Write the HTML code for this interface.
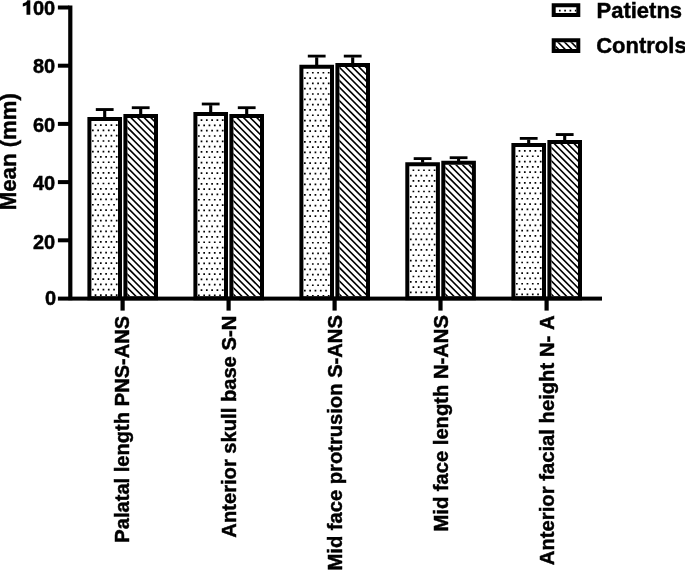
<!DOCTYPE html><html><head><meta charset="utf-8"><style>html,body{margin:0;padding:0;background:#fff;}svg{display:block;will-change:transform;}text{font-family:"Liberation Sans", sans-serif;font-weight:bold;fill:#000;stroke:#000;stroke-width:0.45px;font-kerning:none;white-space:pre;}</style></head><body><svg width="685" height="570" viewBox="0 0 685 570"><rect width="685" height="570" fill="#fff"/><defs><clipPath id="c1"><rect x="91.40" y="121.00" width="26.60" height="175.20"/></clipPath><clipPath id="c2"><rect x="127.40" y="118.05" width="26.60" height="178.15"/></clipPath><clipPath id="c3"><rect x="197.40" y="116.00" width="26.60" height="180.20"/></clipPath><clipPath id="c4"><rect x="233.40" y="118.05" width="26.60" height="178.15"/></clipPath><clipPath id="c5"><rect x="303.40" y="68.70" width="26.60" height="227.50"/></clipPath><clipPath id="c6"><rect x="339.40" y="67.10" width="26.60" height="229.10"/></clipPath><clipPath id="c7"><rect x="409.30" y="166.20" width="26.60" height="130.00"/></clipPath><clipPath id="c8"><rect x="445.30" y="164.80" width="26.60" height="131.40"/></clipPath><clipPath id="c9"><rect x="515.40" y="146.90" width="26.60" height="149.30"/></clipPath><clipPath id="c10"><rect x="551.40" y="144.00" width="26.60" height="152.20"/></clipPath><clipPath id="c11"><rect x="555.70" y="7.20" width="20.60" height="5.70"/></clipPath><clipPath id="c12"><rect x="555.70" y="42.30" width="20.60" height="6.60"/></clipPath></defs><rect x="91.40" y="121.00" width="26.60" height="175.20" fill="#fff"/><path clip-path="url(#c1)" d="M94.65 124.20h1.70v1.70h-1.70zM99.95 124.20h1.70v1.70h-1.70zM105.25 124.20h1.70v1.70h-1.70zM110.55 124.20h1.70v1.70h-1.70zM115.85 124.20h1.70v1.70h-1.70zM92.00 129.51h1.70v1.70h-1.70zM97.30 129.51h1.70v1.70h-1.70zM102.60 129.51h1.70v1.70h-1.70zM107.90 129.51h1.70v1.70h-1.70zM113.20 129.51h1.70v1.70h-1.70zM94.65 134.82h1.70v1.70h-1.70zM99.95 134.82h1.70v1.70h-1.70zM105.25 134.82h1.70v1.70h-1.70zM110.55 134.82h1.70v1.70h-1.70zM115.85 134.82h1.70v1.70h-1.70zM92.00 140.14h1.70v1.70h-1.70zM97.30 140.14h1.70v1.70h-1.70zM102.60 140.14h1.70v1.70h-1.70zM107.90 140.14h1.70v1.70h-1.70zM113.20 140.14h1.70v1.70h-1.70zM94.65 145.45h1.70v1.70h-1.70zM99.95 145.45h1.70v1.70h-1.70zM105.25 145.45h1.70v1.70h-1.70zM110.55 145.45h1.70v1.70h-1.70zM115.85 145.45h1.70v1.70h-1.70zM92.00 150.76h1.70v1.70h-1.70zM97.30 150.76h1.70v1.70h-1.70zM102.60 150.76h1.70v1.70h-1.70zM107.90 150.76h1.70v1.70h-1.70zM113.20 150.76h1.70v1.70h-1.70zM94.65 156.07h1.70v1.70h-1.70zM99.95 156.07h1.70v1.70h-1.70zM105.25 156.07h1.70v1.70h-1.70zM110.55 156.07h1.70v1.70h-1.70zM115.85 156.07h1.70v1.70h-1.70zM92.00 161.38h1.70v1.70h-1.70zM97.30 161.38h1.70v1.70h-1.70zM102.60 161.38h1.70v1.70h-1.70zM107.90 161.38h1.70v1.70h-1.70zM113.20 161.38h1.70v1.70h-1.70zM94.65 166.70h1.70v1.70h-1.70zM99.95 166.70h1.70v1.70h-1.70zM105.25 166.70h1.70v1.70h-1.70zM110.55 166.70h1.70v1.70h-1.70zM115.85 166.70h1.70v1.70h-1.70zM92.00 172.01h1.70v1.70h-1.70zM97.30 172.01h1.70v1.70h-1.70zM102.60 172.01h1.70v1.70h-1.70zM107.90 172.01h1.70v1.70h-1.70zM113.20 172.01h1.70v1.70h-1.70zM94.65 177.32h1.70v1.70h-1.70zM99.95 177.32h1.70v1.70h-1.70zM105.25 177.32h1.70v1.70h-1.70zM110.55 177.32h1.70v1.70h-1.70zM115.85 177.32h1.70v1.70h-1.70zM92.00 182.63h1.70v1.70h-1.70zM97.30 182.63h1.70v1.70h-1.70zM102.60 182.63h1.70v1.70h-1.70zM107.90 182.63h1.70v1.70h-1.70zM113.20 182.63h1.70v1.70h-1.70zM94.65 187.94h1.70v1.70h-1.70zM99.95 187.94h1.70v1.70h-1.70zM105.25 187.94h1.70v1.70h-1.70zM110.55 187.94h1.70v1.70h-1.70zM115.85 187.94h1.70v1.70h-1.70zM92.00 193.26h1.70v1.70h-1.70zM97.30 193.26h1.70v1.70h-1.70zM102.60 193.26h1.70v1.70h-1.70zM107.90 193.26h1.70v1.70h-1.70zM113.20 193.26h1.70v1.70h-1.70zM94.65 198.57h1.70v1.70h-1.70zM99.95 198.57h1.70v1.70h-1.70zM105.25 198.57h1.70v1.70h-1.70zM110.55 198.57h1.70v1.70h-1.70zM115.85 198.57h1.70v1.70h-1.70zM92.00 203.88h1.70v1.70h-1.70zM97.30 203.88h1.70v1.70h-1.70zM102.60 203.88h1.70v1.70h-1.70zM107.90 203.88h1.70v1.70h-1.70zM113.20 203.88h1.70v1.70h-1.70zM94.65 209.19h1.70v1.70h-1.70zM99.95 209.19h1.70v1.70h-1.70zM105.25 209.19h1.70v1.70h-1.70zM110.55 209.19h1.70v1.70h-1.70zM115.85 209.19h1.70v1.70h-1.70zM92.00 214.50h1.70v1.70h-1.70zM97.30 214.50h1.70v1.70h-1.70zM102.60 214.50h1.70v1.70h-1.70zM107.90 214.50h1.70v1.70h-1.70zM113.20 214.50h1.70v1.70h-1.70zM94.65 219.82h1.70v1.70h-1.70zM99.95 219.82h1.70v1.70h-1.70zM105.25 219.82h1.70v1.70h-1.70zM110.55 219.82h1.70v1.70h-1.70zM115.85 219.82h1.70v1.70h-1.70zM92.00 225.13h1.70v1.70h-1.70zM97.30 225.13h1.70v1.70h-1.70zM102.60 225.13h1.70v1.70h-1.70zM107.90 225.13h1.70v1.70h-1.70zM113.20 225.13h1.70v1.70h-1.70zM94.65 230.44h1.70v1.70h-1.70zM99.95 230.44h1.70v1.70h-1.70zM105.25 230.44h1.70v1.70h-1.70zM110.55 230.44h1.70v1.70h-1.70zM115.85 230.44h1.70v1.70h-1.70zM92.00 235.75h1.70v1.70h-1.70zM97.30 235.75h1.70v1.70h-1.70zM102.60 235.75h1.70v1.70h-1.70zM107.90 235.75h1.70v1.70h-1.70zM113.20 235.75h1.70v1.70h-1.70zM94.65 241.06h1.70v1.70h-1.70zM99.95 241.06h1.70v1.70h-1.70zM105.25 241.06h1.70v1.70h-1.70zM110.55 241.06h1.70v1.70h-1.70zM115.85 241.06h1.70v1.70h-1.70zM92.00 246.38h1.70v1.70h-1.70zM97.30 246.38h1.70v1.70h-1.70zM102.60 246.38h1.70v1.70h-1.70zM107.90 246.38h1.70v1.70h-1.70zM113.20 246.38h1.70v1.70h-1.70zM94.65 251.69h1.70v1.70h-1.70zM99.95 251.69h1.70v1.70h-1.70zM105.25 251.69h1.70v1.70h-1.70zM110.55 251.69h1.70v1.70h-1.70zM115.85 251.69h1.70v1.70h-1.70zM92.00 257.00h1.70v1.70h-1.70zM97.30 257.00h1.70v1.70h-1.70zM102.60 257.00h1.70v1.70h-1.70zM107.90 257.00h1.70v1.70h-1.70zM113.20 257.00h1.70v1.70h-1.70zM94.65 262.31h1.70v1.70h-1.70zM99.95 262.31h1.70v1.70h-1.70zM105.25 262.31h1.70v1.70h-1.70zM110.55 262.31h1.70v1.70h-1.70zM115.85 262.31h1.70v1.70h-1.70zM92.00 267.62h1.70v1.70h-1.70zM97.30 267.62h1.70v1.70h-1.70zM102.60 267.62h1.70v1.70h-1.70zM107.90 267.62h1.70v1.70h-1.70zM113.20 267.62h1.70v1.70h-1.70zM94.65 272.94h1.70v1.70h-1.70zM99.95 272.94h1.70v1.70h-1.70zM105.25 272.94h1.70v1.70h-1.70zM110.55 272.94h1.70v1.70h-1.70zM115.85 272.94h1.70v1.70h-1.70zM92.00 278.25h1.70v1.70h-1.70zM97.30 278.25h1.70v1.70h-1.70zM102.60 278.25h1.70v1.70h-1.70zM107.90 278.25h1.70v1.70h-1.70zM113.20 278.25h1.70v1.70h-1.70zM94.65 283.56h1.70v1.70h-1.70zM99.95 283.56h1.70v1.70h-1.70zM105.25 283.56h1.70v1.70h-1.70zM110.55 283.56h1.70v1.70h-1.70zM115.85 283.56h1.70v1.70h-1.70zM92.00 288.87h1.70v1.70h-1.70zM97.30 288.87h1.70v1.70h-1.70zM102.60 288.87h1.70v1.70h-1.70zM107.90 288.87h1.70v1.70h-1.70zM113.20 288.87h1.70v1.70h-1.70zM94.65 294.18h1.70v1.70h-1.70zM99.95 294.18h1.70v1.70h-1.70zM105.25 294.18h1.70v1.70h-1.70zM110.55 294.18h1.70v1.70h-1.70zM115.85 294.18h1.70v1.70h-1.70z" fill="#000"/><path fill-rule="evenodd" fill="#000" d="M87.40 117.00h34.60v183.20h-34.60zM91.40 121.00v175.20h26.60v-175.20z"/><rect x="95.80" y="108.10" width="17.80" height="2.90" fill="#000"/><rect x="103.15" y="110.80" width="3.10" height="6.60" fill="#000"/><rect x="127.40" y="118.05" width="26.60" height="178.15" fill="#fff"/><path clip-path="url(#c2)" d="M-70.68 108.05L125.90 306.20M-64.05 108.05L132.52 306.20M-57.43 108.05L139.15 306.20M-50.80 108.05L145.77 306.20M-44.18 108.05L152.40 306.20M-37.55 108.05L159.02 306.20M-30.93 108.05L165.65 306.20M-24.30 108.05L172.27 306.20M-17.68 108.05L178.90 306.20M-11.05 108.05L185.52 306.20M-4.43 108.05L192.15 306.20M2.20 108.05L198.77 306.20M8.82 108.05L205.40 306.20M15.45 108.05L212.02 306.20M22.07 108.05L218.65 306.20M28.70 108.05L225.27 306.20M35.32 108.05L231.90 306.20M41.95 108.05L238.52 306.20M48.57 108.05L245.15 306.20M55.20 108.05L251.77 306.20M61.82 108.05L258.40 306.20M68.45 108.05L265.02 306.20M75.07 108.05L271.65 306.20M81.70 108.05L278.27 306.20M88.32 108.05L284.90 306.20M94.95 108.05L291.52 306.20M101.57 108.05L298.15 306.20M108.20 108.05L304.77 306.20M114.82 108.05L311.40 306.20M121.45 108.05L318.02 306.20M128.07 108.05L324.65 306.20M134.70 108.05L331.27 306.20M141.32 108.05L337.90 306.20M147.95 108.05L344.52 306.20M154.57 108.05L351.15 306.20" stroke="#000" stroke-width="1.6" fill="none"/><path fill-rule="evenodd" fill="#000" d="M123.40 114.05h34.60v186.15h-34.60zM127.40 118.05v178.15h26.60v-178.15z"/><rect x="131.80" y="106.30" width="17.80" height="2.80" fill="#000"/><rect x="139.15" y="108.90" width="3.10" height="5.55" fill="#000"/><rect x="197.40" y="116.00" width="26.60" height="180.20" fill="#fff"/><path clip-path="url(#c3)" d="M200.65 119.20h1.70v1.70h-1.70zM205.95 119.20h1.70v1.70h-1.70zM211.25 119.20h1.70v1.70h-1.70zM216.55 119.20h1.70v1.70h-1.70zM221.85 119.20h1.70v1.70h-1.70zM198.00 124.51h1.70v1.70h-1.70zM203.30 124.51h1.70v1.70h-1.70zM208.60 124.51h1.70v1.70h-1.70zM213.90 124.51h1.70v1.70h-1.70zM219.20 124.51h1.70v1.70h-1.70zM200.65 129.82h1.70v1.70h-1.70zM205.95 129.82h1.70v1.70h-1.70zM211.25 129.82h1.70v1.70h-1.70zM216.55 129.82h1.70v1.70h-1.70zM221.85 129.82h1.70v1.70h-1.70zM198.00 135.14h1.70v1.70h-1.70zM203.30 135.14h1.70v1.70h-1.70zM208.60 135.14h1.70v1.70h-1.70zM213.90 135.14h1.70v1.70h-1.70zM219.20 135.14h1.70v1.70h-1.70zM200.65 140.45h1.70v1.70h-1.70zM205.95 140.45h1.70v1.70h-1.70zM211.25 140.45h1.70v1.70h-1.70zM216.55 140.45h1.70v1.70h-1.70zM221.85 140.45h1.70v1.70h-1.70zM198.00 145.76h1.70v1.70h-1.70zM203.30 145.76h1.70v1.70h-1.70zM208.60 145.76h1.70v1.70h-1.70zM213.90 145.76h1.70v1.70h-1.70zM219.20 145.76h1.70v1.70h-1.70zM200.65 151.07h1.70v1.70h-1.70zM205.95 151.07h1.70v1.70h-1.70zM211.25 151.07h1.70v1.70h-1.70zM216.55 151.07h1.70v1.70h-1.70zM221.85 151.07h1.70v1.70h-1.70zM198.00 156.38h1.70v1.70h-1.70zM203.30 156.38h1.70v1.70h-1.70zM208.60 156.38h1.70v1.70h-1.70zM213.90 156.38h1.70v1.70h-1.70zM219.20 156.38h1.70v1.70h-1.70zM200.65 161.70h1.70v1.70h-1.70zM205.95 161.70h1.70v1.70h-1.70zM211.25 161.70h1.70v1.70h-1.70zM216.55 161.70h1.70v1.70h-1.70zM221.85 161.70h1.70v1.70h-1.70zM198.00 167.01h1.70v1.70h-1.70zM203.30 167.01h1.70v1.70h-1.70zM208.60 167.01h1.70v1.70h-1.70zM213.90 167.01h1.70v1.70h-1.70zM219.20 167.01h1.70v1.70h-1.70zM200.65 172.32h1.70v1.70h-1.70zM205.95 172.32h1.70v1.70h-1.70zM211.25 172.32h1.70v1.70h-1.70zM216.55 172.32h1.70v1.70h-1.70zM221.85 172.32h1.70v1.70h-1.70zM198.00 177.63h1.70v1.70h-1.70zM203.30 177.63h1.70v1.70h-1.70zM208.60 177.63h1.70v1.70h-1.70zM213.90 177.63h1.70v1.70h-1.70zM219.20 177.63h1.70v1.70h-1.70zM200.65 182.94h1.70v1.70h-1.70zM205.95 182.94h1.70v1.70h-1.70zM211.25 182.94h1.70v1.70h-1.70zM216.55 182.94h1.70v1.70h-1.70zM221.85 182.94h1.70v1.70h-1.70zM198.00 188.26h1.70v1.70h-1.70zM203.30 188.26h1.70v1.70h-1.70zM208.60 188.26h1.70v1.70h-1.70zM213.90 188.26h1.70v1.70h-1.70zM219.20 188.26h1.70v1.70h-1.70zM200.65 193.57h1.70v1.70h-1.70zM205.95 193.57h1.70v1.70h-1.70zM211.25 193.57h1.70v1.70h-1.70zM216.55 193.57h1.70v1.70h-1.70zM221.85 193.57h1.70v1.70h-1.70zM198.00 198.88h1.70v1.70h-1.70zM203.30 198.88h1.70v1.70h-1.70zM208.60 198.88h1.70v1.70h-1.70zM213.90 198.88h1.70v1.70h-1.70zM219.20 198.88h1.70v1.70h-1.70zM200.65 204.19h1.70v1.70h-1.70zM205.95 204.19h1.70v1.70h-1.70zM211.25 204.19h1.70v1.70h-1.70zM216.55 204.19h1.70v1.70h-1.70zM221.85 204.19h1.70v1.70h-1.70zM198.00 209.50h1.70v1.70h-1.70zM203.30 209.50h1.70v1.70h-1.70zM208.60 209.50h1.70v1.70h-1.70zM213.90 209.50h1.70v1.70h-1.70zM219.20 209.50h1.70v1.70h-1.70zM200.65 214.82h1.70v1.70h-1.70zM205.95 214.82h1.70v1.70h-1.70zM211.25 214.82h1.70v1.70h-1.70zM216.55 214.82h1.70v1.70h-1.70zM221.85 214.82h1.70v1.70h-1.70zM198.00 220.13h1.70v1.70h-1.70zM203.30 220.13h1.70v1.70h-1.70zM208.60 220.13h1.70v1.70h-1.70zM213.90 220.13h1.70v1.70h-1.70zM219.20 220.13h1.70v1.70h-1.70zM200.65 225.44h1.70v1.70h-1.70zM205.95 225.44h1.70v1.70h-1.70zM211.25 225.44h1.70v1.70h-1.70zM216.55 225.44h1.70v1.70h-1.70zM221.85 225.44h1.70v1.70h-1.70zM198.00 230.75h1.70v1.70h-1.70zM203.30 230.75h1.70v1.70h-1.70zM208.60 230.75h1.70v1.70h-1.70zM213.90 230.75h1.70v1.70h-1.70zM219.20 230.75h1.70v1.70h-1.70zM200.65 236.06h1.70v1.70h-1.70zM205.95 236.06h1.70v1.70h-1.70zM211.25 236.06h1.70v1.70h-1.70zM216.55 236.06h1.70v1.70h-1.70zM221.85 236.06h1.70v1.70h-1.70zM198.00 241.38h1.70v1.70h-1.70zM203.30 241.38h1.70v1.70h-1.70zM208.60 241.38h1.70v1.70h-1.70zM213.90 241.38h1.70v1.70h-1.70zM219.20 241.38h1.70v1.70h-1.70zM200.65 246.69h1.70v1.70h-1.70zM205.95 246.69h1.70v1.70h-1.70zM211.25 246.69h1.70v1.70h-1.70zM216.55 246.69h1.70v1.70h-1.70zM221.85 246.69h1.70v1.70h-1.70zM198.00 252.00h1.70v1.70h-1.70zM203.30 252.00h1.70v1.70h-1.70zM208.60 252.00h1.70v1.70h-1.70zM213.90 252.00h1.70v1.70h-1.70zM219.20 252.00h1.70v1.70h-1.70zM200.65 257.31h1.70v1.70h-1.70zM205.95 257.31h1.70v1.70h-1.70zM211.25 257.31h1.70v1.70h-1.70zM216.55 257.31h1.70v1.70h-1.70zM221.85 257.31h1.70v1.70h-1.70zM198.00 262.62h1.70v1.70h-1.70zM203.30 262.62h1.70v1.70h-1.70zM208.60 262.62h1.70v1.70h-1.70zM213.90 262.62h1.70v1.70h-1.70zM219.20 262.62h1.70v1.70h-1.70zM200.65 267.94h1.70v1.70h-1.70zM205.95 267.94h1.70v1.70h-1.70zM211.25 267.94h1.70v1.70h-1.70zM216.55 267.94h1.70v1.70h-1.70zM221.85 267.94h1.70v1.70h-1.70zM198.00 273.25h1.70v1.70h-1.70zM203.30 273.25h1.70v1.70h-1.70zM208.60 273.25h1.70v1.70h-1.70zM213.90 273.25h1.70v1.70h-1.70zM219.20 273.25h1.70v1.70h-1.70zM200.65 278.56h1.70v1.70h-1.70zM205.95 278.56h1.70v1.70h-1.70zM211.25 278.56h1.70v1.70h-1.70zM216.55 278.56h1.70v1.70h-1.70zM221.85 278.56h1.70v1.70h-1.70zM198.00 283.87h1.70v1.70h-1.70zM203.30 283.87h1.70v1.70h-1.70zM208.60 283.87h1.70v1.70h-1.70zM213.90 283.87h1.70v1.70h-1.70zM219.20 283.87h1.70v1.70h-1.70zM200.65 289.18h1.70v1.70h-1.70zM205.95 289.18h1.70v1.70h-1.70zM211.25 289.18h1.70v1.70h-1.70zM216.55 289.18h1.70v1.70h-1.70zM221.85 289.18h1.70v1.70h-1.70zM198.00 294.50h1.70v1.70h-1.70zM203.30 294.50h1.70v1.70h-1.70zM208.60 294.50h1.70v1.70h-1.70zM213.90 294.50h1.70v1.70h-1.70zM219.20 294.50h1.70v1.70h-1.70z" fill="#000"/><path fill-rule="evenodd" fill="#000" d="M193.40 112.00h34.60v188.20h-34.60zM197.40 116.00v180.20h26.60v-180.20z"/><rect x="201.80" y="102.60" width="17.80" height="2.80" fill="#000"/><rect x="209.15" y="105.20" width="3.10" height="7.20" fill="#000"/><rect x="233.40" y="118.05" width="26.60" height="178.15" fill="#fff"/><path clip-path="url(#c4)" d="M35.32 108.05L231.90 306.20M41.95 108.05L238.52 306.20M48.57 108.05L245.15 306.20M55.20 108.05L251.77 306.20M61.82 108.05L258.40 306.20M68.45 108.05L265.02 306.20M75.07 108.05L271.65 306.20M81.70 108.05L278.27 306.20M88.32 108.05L284.90 306.20M94.95 108.05L291.52 306.20M101.57 108.05L298.15 306.20M108.20 108.05L304.77 306.20M114.82 108.05L311.40 306.20M121.45 108.05L318.02 306.20M128.07 108.05L324.65 306.20M134.70 108.05L331.27 306.20M141.32 108.05L337.90 306.20M147.95 108.05L344.52 306.20M154.57 108.05L351.15 306.20M161.20 108.05L357.77 306.20M167.82 108.05L364.40 306.20M174.45 108.05L371.02 306.20M181.07 108.05L377.65 306.20M187.70 108.05L384.27 306.20M194.32 108.05L390.90 306.20M200.95 108.05L397.52 306.20M207.57 108.05L404.15 306.20M214.20 108.05L410.77 306.20M220.82 108.05L417.40 306.20M227.45 108.05L424.02 306.20M234.07 108.05L430.65 306.20M240.70 108.05L437.27 306.20M247.32 108.05L443.90 306.20M253.95 108.05L450.52 306.20M260.57 108.05L457.15 306.20" stroke="#000" stroke-width="1.6" fill="none"/><path fill-rule="evenodd" fill="#000" d="M229.40 114.05h34.60v186.15h-34.60zM233.40 118.05v178.15h26.60v-178.15z"/><rect x="237.80" y="106.30" width="17.80" height="2.80" fill="#000"/><rect x="245.15" y="108.90" width="3.10" height="5.55" fill="#000"/><rect x="303.40" y="68.70" width="26.60" height="227.50" fill="#fff"/><path clip-path="url(#c5)" d="M306.65 71.90h1.70v1.70h-1.70zM311.95 71.90h1.70v1.70h-1.70zM317.25 71.90h1.70v1.70h-1.70zM322.55 71.90h1.70v1.70h-1.70zM327.85 71.90h1.70v1.70h-1.70zM304.00 77.21h1.70v1.70h-1.70zM309.30 77.21h1.70v1.70h-1.70zM314.60 77.21h1.70v1.70h-1.70zM319.90 77.21h1.70v1.70h-1.70zM325.20 77.21h1.70v1.70h-1.70zM306.65 82.52h1.70v1.70h-1.70zM311.95 82.52h1.70v1.70h-1.70zM317.25 82.52h1.70v1.70h-1.70zM322.55 82.52h1.70v1.70h-1.70zM327.85 82.52h1.70v1.70h-1.70zM304.00 87.84h1.70v1.70h-1.70zM309.30 87.84h1.70v1.70h-1.70zM314.60 87.84h1.70v1.70h-1.70zM319.90 87.84h1.70v1.70h-1.70zM325.20 87.84h1.70v1.70h-1.70zM306.65 93.15h1.70v1.70h-1.70zM311.95 93.15h1.70v1.70h-1.70zM317.25 93.15h1.70v1.70h-1.70zM322.55 93.15h1.70v1.70h-1.70zM327.85 93.15h1.70v1.70h-1.70zM304.00 98.46h1.70v1.70h-1.70zM309.30 98.46h1.70v1.70h-1.70zM314.60 98.46h1.70v1.70h-1.70zM319.90 98.46h1.70v1.70h-1.70zM325.20 98.46h1.70v1.70h-1.70zM306.65 103.77h1.70v1.70h-1.70zM311.95 103.77h1.70v1.70h-1.70zM317.25 103.77h1.70v1.70h-1.70zM322.55 103.77h1.70v1.70h-1.70zM327.85 103.77h1.70v1.70h-1.70zM304.00 109.08h1.70v1.70h-1.70zM309.30 109.08h1.70v1.70h-1.70zM314.60 109.08h1.70v1.70h-1.70zM319.90 109.08h1.70v1.70h-1.70zM325.20 109.08h1.70v1.70h-1.70zM306.65 114.40h1.70v1.70h-1.70zM311.95 114.40h1.70v1.70h-1.70zM317.25 114.40h1.70v1.70h-1.70zM322.55 114.40h1.70v1.70h-1.70zM327.85 114.40h1.70v1.70h-1.70zM304.00 119.71h1.70v1.70h-1.70zM309.30 119.71h1.70v1.70h-1.70zM314.60 119.71h1.70v1.70h-1.70zM319.90 119.71h1.70v1.70h-1.70zM325.20 119.71h1.70v1.70h-1.70zM306.65 125.02h1.70v1.70h-1.70zM311.95 125.02h1.70v1.70h-1.70zM317.25 125.02h1.70v1.70h-1.70zM322.55 125.02h1.70v1.70h-1.70zM327.85 125.02h1.70v1.70h-1.70zM304.00 130.33h1.70v1.70h-1.70zM309.30 130.33h1.70v1.70h-1.70zM314.60 130.33h1.70v1.70h-1.70zM319.90 130.33h1.70v1.70h-1.70zM325.20 130.33h1.70v1.70h-1.70zM306.65 135.64h1.70v1.70h-1.70zM311.95 135.64h1.70v1.70h-1.70zM317.25 135.64h1.70v1.70h-1.70zM322.55 135.64h1.70v1.70h-1.70zM327.85 135.64h1.70v1.70h-1.70zM304.00 140.96h1.70v1.70h-1.70zM309.30 140.96h1.70v1.70h-1.70zM314.60 140.96h1.70v1.70h-1.70zM319.90 140.96h1.70v1.70h-1.70zM325.20 140.96h1.70v1.70h-1.70zM306.65 146.27h1.70v1.70h-1.70zM311.95 146.27h1.70v1.70h-1.70zM317.25 146.27h1.70v1.70h-1.70zM322.55 146.27h1.70v1.70h-1.70zM327.85 146.27h1.70v1.70h-1.70zM304.00 151.58h1.70v1.70h-1.70zM309.30 151.58h1.70v1.70h-1.70zM314.60 151.58h1.70v1.70h-1.70zM319.90 151.58h1.70v1.70h-1.70zM325.20 151.58h1.70v1.70h-1.70zM306.65 156.89h1.70v1.70h-1.70zM311.95 156.89h1.70v1.70h-1.70zM317.25 156.89h1.70v1.70h-1.70zM322.55 156.89h1.70v1.70h-1.70zM327.85 156.89h1.70v1.70h-1.70zM304.00 162.20h1.70v1.70h-1.70zM309.30 162.20h1.70v1.70h-1.70zM314.60 162.20h1.70v1.70h-1.70zM319.90 162.20h1.70v1.70h-1.70zM325.20 162.20h1.70v1.70h-1.70zM306.65 167.52h1.70v1.70h-1.70zM311.95 167.52h1.70v1.70h-1.70zM317.25 167.52h1.70v1.70h-1.70zM322.55 167.52h1.70v1.70h-1.70zM327.85 167.52h1.70v1.70h-1.70zM304.00 172.83h1.70v1.70h-1.70zM309.30 172.83h1.70v1.70h-1.70zM314.60 172.83h1.70v1.70h-1.70zM319.90 172.83h1.70v1.70h-1.70zM325.20 172.83h1.70v1.70h-1.70zM306.65 178.14h1.70v1.70h-1.70zM311.95 178.14h1.70v1.70h-1.70zM317.25 178.14h1.70v1.70h-1.70zM322.55 178.14h1.70v1.70h-1.70zM327.85 178.14h1.70v1.70h-1.70zM304.00 183.45h1.70v1.70h-1.70zM309.30 183.45h1.70v1.70h-1.70zM314.60 183.45h1.70v1.70h-1.70zM319.90 183.45h1.70v1.70h-1.70zM325.20 183.45h1.70v1.70h-1.70zM306.65 188.76h1.70v1.70h-1.70zM311.95 188.76h1.70v1.70h-1.70zM317.25 188.76h1.70v1.70h-1.70zM322.55 188.76h1.70v1.70h-1.70zM327.85 188.76h1.70v1.70h-1.70zM304.00 194.08h1.70v1.70h-1.70zM309.30 194.08h1.70v1.70h-1.70zM314.60 194.08h1.70v1.70h-1.70zM319.90 194.08h1.70v1.70h-1.70zM325.20 194.08h1.70v1.70h-1.70zM306.65 199.39h1.70v1.70h-1.70zM311.95 199.39h1.70v1.70h-1.70zM317.25 199.39h1.70v1.70h-1.70zM322.55 199.39h1.70v1.70h-1.70zM327.85 199.39h1.70v1.70h-1.70zM304.00 204.70h1.70v1.70h-1.70zM309.30 204.70h1.70v1.70h-1.70zM314.60 204.70h1.70v1.70h-1.70zM319.90 204.70h1.70v1.70h-1.70zM325.20 204.70h1.70v1.70h-1.70zM306.65 210.01h1.70v1.70h-1.70zM311.95 210.01h1.70v1.70h-1.70zM317.25 210.01h1.70v1.70h-1.70zM322.55 210.01h1.70v1.70h-1.70zM327.85 210.01h1.70v1.70h-1.70zM304.00 215.32h1.70v1.70h-1.70zM309.30 215.32h1.70v1.70h-1.70zM314.60 215.32h1.70v1.70h-1.70zM319.90 215.32h1.70v1.70h-1.70zM325.20 215.32h1.70v1.70h-1.70zM306.65 220.64h1.70v1.70h-1.70zM311.95 220.64h1.70v1.70h-1.70zM317.25 220.64h1.70v1.70h-1.70zM322.55 220.64h1.70v1.70h-1.70zM327.85 220.64h1.70v1.70h-1.70zM304.00 225.95h1.70v1.70h-1.70zM309.30 225.95h1.70v1.70h-1.70zM314.60 225.95h1.70v1.70h-1.70zM319.90 225.95h1.70v1.70h-1.70zM325.20 225.95h1.70v1.70h-1.70zM306.65 231.26h1.70v1.70h-1.70zM311.95 231.26h1.70v1.70h-1.70zM317.25 231.26h1.70v1.70h-1.70zM322.55 231.26h1.70v1.70h-1.70zM327.85 231.26h1.70v1.70h-1.70zM304.00 236.57h1.70v1.70h-1.70zM309.30 236.57h1.70v1.70h-1.70zM314.60 236.57h1.70v1.70h-1.70zM319.90 236.57h1.70v1.70h-1.70zM325.20 236.57h1.70v1.70h-1.70zM306.65 241.88h1.70v1.70h-1.70zM311.95 241.88h1.70v1.70h-1.70zM317.25 241.88h1.70v1.70h-1.70zM322.55 241.88h1.70v1.70h-1.70zM327.85 241.88h1.70v1.70h-1.70zM304.00 247.20h1.70v1.70h-1.70zM309.30 247.20h1.70v1.70h-1.70zM314.60 247.20h1.70v1.70h-1.70zM319.90 247.20h1.70v1.70h-1.70zM325.20 247.20h1.70v1.70h-1.70zM306.65 252.51h1.70v1.70h-1.70zM311.95 252.51h1.70v1.70h-1.70zM317.25 252.51h1.70v1.70h-1.70zM322.55 252.51h1.70v1.70h-1.70zM327.85 252.51h1.70v1.70h-1.70zM304.00 257.82h1.70v1.70h-1.70zM309.30 257.82h1.70v1.70h-1.70zM314.60 257.82h1.70v1.70h-1.70zM319.90 257.82h1.70v1.70h-1.70zM325.20 257.82h1.70v1.70h-1.70zM306.65 263.13h1.70v1.70h-1.70zM311.95 263.13h1.70v1.70h-1.70zM317.25 263.13h1.70v1.70h-1.70zM322.55 263.13h1.70v1.70h-1.70zM327.85 263.13h1.70v1.70h-1.70zM304.00 268.44h1.70v1.70h-1.70zM309.30 268.44h1.70v1.70h-1.70zM314.60 268.44h1.70v1.70h-1.70zM319.90 268.44h1.70v1.70h-1.70zM325.20 268.44h1.70v1.70h-1.70zM306.65 273.76h1.70v1.70h-1.70zM311.95 273.76h1.70v1.70h-1.70zM317.25 273.76h1.70v1.70h-1.70zM322.55 273.76h1.70v1.70h-1.70zM327.85 273.76h1.70v1.70h-1.70zM304.00 279.07h1.70v1.70h-1.70zM309.30 279.07h1.70v1.70h-1.70zM314.60 279.07h1.70v1.70h-1.70zM319.90 279.07h1.70v1.70h-1.70zM325.20 279.07h1.70v1.70h-1.70zM306.65 284.38h1.70v1.70h-1.70zM311.95 284.38h1.70v1.70h-1.70zM317.25 284.38h1.70v1.70h-1.70zM322.55 284.38h1.70v1.70h-1.70zM327.85 284.38h1.70v1.70h-1.70zM304.00 289.69h1.70v1.70h-1.70zM309.30 289.69h1.70v1.70h-1.70zM314.60 289.69h1.70v1.70h-1.70zM319.90 289.69h1.70v1.70h-1.70zM325.20 289.69h1.70v1.70h-1.70zM306.65 295.00h1.70v1.70h-1.70zM311.95 295.00h1.70v1.70h-1.70zM317.25 295.00h1.70v1.70h-1.70zM322.55 295.00h1.70v1.70h-1.70zM327.85 295.00h1.70v1.70h-1.70z" fill="#000"/><path fill-rule="evenodd" fill="#000" d="M299.40 64.70h34.60v235.50h-34.60zM303.40 68.70v227.50h26.60v-227.50z"/><rect x="307.80" y="54.70" width="17.80" height="2.80" fill="#000"/><rect x="315.15" y="57.30" width="3.10" height="7.80" fill="#000"/><rect x="339.40" y="67.10" width="26.60" height="229.10" fill="#fff"/><path clip-path="url(#c6)" d="M90.78 57.10L337.90 306.20M97.40 57.10L344.52 306.20M104.03 57.10L351.15 306.20M110.65 57.10L357.77 306.20M117.28 57.10L364.40 306.20M123.90 57.10L371.02 306.20M130.53 57.10L377.65 306.20M137.15 57.10L384.27 306.20M143.78 57.10L390.90 306.20M150.40 57.10L397.52 306.20M157.03 57.10L404.15 306.20M163.65 57.10L410.77 306.20M170.28 57.10L417.40 306.20M176.90 57.10L424.02 306.20M183.53 57.10L430.65 306.20M190.15 57.10L437.27 306.20M196.78 57.10L443.90 306.20M203.40 57.10L450.52 306.20M210.03 57.10L457.15 306.20M216.65 57.10L463.77 306.20M223.28 57.10L470.40 306.20M229.90 57.10L477.02 306.20M236.53 57.10L483.65 306.20M243.15 57.10L490.27 306.20M249.78 57.10L496.90 306.20M256.40 57.10L503.52 306.20M263.03 57.10L510.15 306.20M269.65 57.10L516.77 306.20M276.28 57.10L523.40 306.20M282.90 57.10L530.02 306.20M289.53 57.10L536.65 306.20M296.15 57.10L543.27 306.20M302.78 57.10L549.90 306.20M309.40 57.10L556.52 306.20M316.03 57.10L563.15 306.20M322.65 57.10L569.77 306.20M329.28 57.10L576.40 306.20M335.90 57.10L583.02 306.20M342.53 57.10L589.65 306.20M349.15 57.10L596.27 306.20M355.78 57.10L602.90 306.20M362.40 57.10L609.52 306.20M369.03 57.10L616.15 306.20" stroke="#000" stroke-width="1.6" fill="none"/><path fill-rule="evenodd" fill="#000" d="M335.40 63.10h34.60v237.10h-34.60zM339.40 67.10v229.10h26.60v-229.10z"/><rect x="343.80" y="54.70" width="17.80" height="2.80" fill="#000"/><rect x="351.15" y="57.30" width="3.10" height="6.20" fill="#000"/><rect x="409.30" y="166.20" width="26.60" height="130.00" fill="#fff"/><path clip-path="url(#c7)" d="M412.55 169.40h1.70v1.70h-1.70zM417.85 169.40h1.70v1.70h-1.70zM423.15 169.40h1.70v1.70h-1.70zM428.45 169.40h1.70v1.70h-1.70zM433.75 169.40h1.70v1.70h-1.70zM409.90 174.71h1.70v1.70h-1.70zM415.20 174.71h1.70v1.70h-1.70zM420.50 174.71h1.70v1.70h-1.70zM425.80 174.71h1.70v1.70h-1.70zM431.10 174.71h1.70v1.70h-1.70zM412.55 180.02h1.70v1.70h-1.70zM417.85 180.02h1.70v1.70h-1.70zM423.15 180.02h1.70v1.70h-1.70zM428.45 180.02h1.70v1.70h-1.70zM433.75 180.02h1.70v1.70h-1.70zM409.90 185.34h1.70v1.70h-1.70zM415.20 185.34h1.70v1.70h-1.70zM420.50 185.34h1.70v1.70h-1.70zM425.80 185.34h1.70v1.70h-1.70zM431.10 185.34h1.70v1.70h-1.70zM412.55 190.65h1.70v1.70h-1.70zM417.85 190.65h1.70v1.70h-1.70zM423.15 190.65h1.70v1.70h-1.70zM428.45 190.65h1.70v1.70h-1.70zM433.75 190.65h1.70v1.70h-1.70zM409.90 195.96h1.70v1.70h-1.70zM415.20 195.96h1.70v1.70h-1.70zM420.50 195.96h1.70v1.70h-1.70zM425.80 195.96h1.70v1.70h-1.70zM431.10 195.96h1.70v1.70h-1.70zM412.55 201.27h1.70v1.70h-1.70zM417.85 201.27h1.70v1.70h-1.70zM423.15 201.27h1.70v1.70h-1.70zM428.45 201.27h1.70v1.70h-1.70zM433.75 201.27h1.70v1.70h-1.70zM409.90 206.58h1.70v1.70h-1.70zM415.20 206.58h1.70v1.70h-1.70zM420.50 206.58h1.70v1.70h-1.70zM425.80 206.58h1.70v1.70h-1.70zM431.10 206.58h1.70v1.70h-1.70zM412.55 211.90h1.70v1.70h-1.70zM417.85 211.90h1.70v1.70h-1.70zM423.15 211.90h1.70v1.70h-1.70zM428.45 211.90h1.70v1.70h-1.70zM433.75 211.90h1.70v1.70h-1.70zM409.90 217.21h1.70v1.70h-1.70zM415.20 217.21h1.70v1.70h-1.70zM420.50 217.21h1.70v1.70h-1.70zM425.80 217.21h1.70v1.70h-1.70zM431.10 217.21h1.70v1.70h-1.70zM412.55 222.52h1.70v1.70h-1.70zM417.85 222.52h1.70v1.70h-1.70zM423.15 222.52h1.70v1.70h-1.70zM428.45 222.52h1.70v1.70h-1.70zM433.75 222.52h1.70v1.70h-1.70zM409.90 227.83h1.70v1.70h-1.70zM415.20 227.83h1.70v1.70h-1.70zM420.50 227.83h1.70v1.70h-1.70zM425.80 227.83h1.70v1.70h-1.70zM431.10 227.83h1.70v1.70h-1.70zM412.55 233.14h1.70v1.70h-1.70zM417.85 233.14h1.70v1.70h-1.70zM423.15 233.14h1.70v1.70h-1.70zM428.45 233.14h1.70v1.70h-1.70zM433.75 233.14h1.70v1.70h-1.70zM409.90 238.46h1.70v1.70h-1.70zM415.20 238.46h1.70v1.70h-1.70zM420.50 238.46h1.70v1.70h-1.70zM425.80 238.46h1.70v1.70h-1.70zM431.10 238.46h1.70v1.70h-1.70zM412.55 243.77h1.70v1.70h-1.70zM417.85 243.77h1.70v1.70h-1.70zM423.15 243.77h1.70v1.70h-1.70zM428.45 243.77h1.70v1.70h-1.70zM433.75 243.77h1.70v1.70h-1.70zM409.90 249.08h1.70v1.70h-1.70zM415.20 249.08h1.70v1.70h-1.70zM420.50 249.08h1.70v1.70h-1.70zM425.80 249.08h1.70v1.70h-1.70zM431.10 249.08h1.70v1.70h-1.70zM412.55 254.39h1.70v1.70h-1.70zM417.85 254.39h1.70v1.70h-1.70zM423.15 254.39h1.70v1.70h-1.70zM428.45 254.39h1.70v1.70h-1.70zM433.75 254.39h1.70v1.70h-1.70zM409.90 259.70h1.70v1.70h-1.70zM415.20 259.70h1.70v1.70h-1.70zM420.50 259.70h1.70v1.70h-1.70zM425.80 259.70h1.70v1.70h-1.70zM431.10 259.70h1.70v1.70h-1.70zM412.55 265.02h1.70v1.70h-1.70zM417.85 265.02h1.70v1.70h-1.70zM423.15 265.02h1.70v1.70h-1.70zM428.45 265.02h1.70v1.70h-1.70zM433.75 265.02h1.70v1.70h-1.70zM409.90 270.33h1.70v1.70h-1.70zM415.20 270.33h1.70v1.70h-1.70zM420.50 270.33h1.70v1.70h-1.70zM425.80 270.33h1.70v1.70h-1.70zM431.10 270.33h1.70v1.70h-1.70zM412.55 275.64h1.70v1.70h-1.70zM417.85 275.64h1.70v1.70h-1.70zM423.15 275.64h1.70v1.70h-1.70zM428.45 275.64h1.70v1.70h-1.70zM433.75 275.64h1.70v1.70h-1.70zM409.90 280.95h1.70v1.70h-1.70zM415.20 280.95h1.70v1.70h-1.70zM420.50 280.95h1.70v1.70h-1.70zM425.80 280.95h1.70v1.70h-1.70zM431.10 280.95h1.70v1.70h-1.70zM412.55 286.26h1.70v1.70h-1.70zM417.85 286.26h1.70v1.70h-1.70zM423.15 286.26h1.70v1.70h-1.70zM428.45 286.26h1.70v1.70h-1.70zM433.75 286.26h1.70v1.70h-1.70zM409.90 291.58h1.70v1.70h-1.70zM415.20 291.58h1.70v1.70h-1.70zM420.50 291.58h1.70v1.70h-1.70zM425.80 291.58h1.70v1.70h-1.70zM431.10 291.58h1.70v1.70h-1.70z" fill="#000"/><path fill-rule="evenodd" fill="#000" d="M405.30 162.20h34.60v138.00h-34.60zM409.30 166.20v130.00h26.60v-130.00z"/><rect x="413.70" y="157.20" width="17.80" height="2.80" fill="#000"/><rect x="421.05" y="159.80" width="3.10" height="2.80" fill="#000"/><rect x="445.30" y="164.80" width="26.60" height="131.40" fill="#fff"/><path clip-path="url(#c8)" d="M293.70 154.80L443.90 306.20M300.33 154.80L450.52 306.20M306.95 154.80L457.15 306.20M313.58 154.80L463.77 306.20M320.20 154.80L470.40 306.20M326.83 154.80L477.02 306.20M333.45 154.80L483.65 306.20M340.08 154.80L490.27 306.20M346.70 154.80L496.90 306.20M353.33 154.80L503.52 306.20M359.95 154.80L510.15 306.20M366.58 154.80L516.77 306.20M373.20 154.80L523.40 306.20M379.83 154.80L530.02 306.20M386.45 154.80L536.65 306.20M393.08 154.80L543.27 306.20M399.70 154.80L549.90 306.20M406.33 154.80L556.52 306.20M412.95 154.80L563.15 306.20M419.58 154.80L569.77 306.20M426.20 154.80L576.40 306.20M432.83 154.80L583.02 306.20M439.45 154.80L589.65 306.20M446.08 154.80L596.27 306.20M452.70 154.80L602.90 306.20M459.33 154.80L609.52 306.20M465.95 154.80L616.15 306.20M472.58 154.80L622.77 306.20" stroke="#000" stroke-width="1.6" fill="none"/><path fill-rule="evenodd" fill="#000" d="M441.30 160.80h34.60v139.40h-34.60zM445.30 164.80v131.40h26.60v-131.40z"/><rect x="449.70" y="156.30" width="17.80" height="2.80" fill="#000"/><rect x="457.05" y="158.90" width="3.10" height="2.30" fill="#000"/><rect x="515.40" y="146.90" width="26.60" height="149.30" fill="#fff"/><path clip-path="url(#c9)" d="M518.65 150.10h1.70v1.70h-1.70zM523.95 150.10h1.70v1.70h-1.70zM529.25 150.10h1.70v1.70h-1.70zM534.55 150.10h1.70v1.70h-1.70zM539.85 150.10h1.70v1.70h-1.70zM516.00 155.41h1.70v1.70h-1.70zM521.30 155.41h1.70v1.70h-1.70zM526.60 155.41h1.70v1.70h-1.70zM531.90 155.41h1.70v1.70h-1.70zM537.20 155.41h1.70v1.70h-1.70zM518.65 160.72h1.70v1.70h-1.70zM523.95 160.72h1.70v1.70h-1.70zM529.25 160.72h1.70v1.70h-1.70zM534.55 160.72h1.70v1.70h-1.70zM539.85 160.72h1.70v1.70h-1.70zM516.00 166.04h1.70v1.70h-1.70zM521.30 166.04h1.70v1.70h-1.70zM526.60 166.04h1.70v1.70h-1.70zM531.90 166.04h1.70v1.70h-1.70zM537.20 166.04h1.70v1.70h-1.70zM518.65 171.35h1.70v1.70h-1.70zM523.95 171.35h1.70v1.70h-1.70zM529.25 171.35h1.70v1.70h-1.70zM534.55 171.35h1.70v1.70h-1.70zM539.85 171.35h1.70v1.70h-1.70zM516.00 176.66h1.70v1.70h-1.70zM521.30 176.66h1.70v1.70h-1.70zM526.60 176.66h1.70v1.70h-1.70zM531.90 176.66h1.70v1.70h-1.70zM537.20 176.66h1.70v1.70h-1.70zM518.65 181.97h1.70v1.70h-1.70zM523.95 181.97h1.70v1.70h-1.70zM529.25 181.97h1.70v1.70h-1.70zM534.55 181.97h1.70v1.70h-1.70zM539.85 181.97h1.70v1.70h-1.70zM516.00 187.28h1.70v1.70h-1.70zM521.30 187.28h1.70v1.70h-1.70zM526.60 187.28h1.70v1.70h-1.70zM531.90 187.28h1.70v1.70h-1.70zM537.20 187.28h1.70v1.70h-1.70zM518.65 192.60h1.70v1.70h-1.70zM523.95 192.60h1.70v1.70h-1.70zM529.25 192.60h1.70v1.70h-1.70zM534.55 192.60h1.70v1.70h-1.70zM539.85 192.60h1.70v1.70h-1.70zM516.00 197.91h1.70v1.70h-1.70zM521.30 197.91h1.70v1.70h-1.70zM526.60 197.91h1.70v1.70h-1.70zM531.90 197.91h1.70v1.70h-1.70zM537.20 197.91h1.70v1.70h-1.70zM518.65 203.22h1.70v1.70h-1.70zM523.95 203.22h1.70v1.70h-1.70zM529.25 203.22h1.70v1.70h-1.70zM534.55 203.22h1.70v1.70h-1.70zM539.85 203.22h1.70v1.70h-1.70zM516.00 208.53h1.70v1.70h-1.70zM521.30 208.53h1.70v1.70h-1.70zM526.60 208.53h1.70v1.70h-1.70zM531.90 208.53h1.70v1.70h-1.70zM537.20 208.53h1.70v1.70h-1.70zM518.65 213.84h1.70v1.70h-1.70zM523.95 213.84h1.70v1.70h-1.70zM529.25 213.84h1.70v1.70h-1.70zM534.55 213.84h1.70v1.70h-1.70zM539.85 213.84h1.70v1.70h-1.70zM516.00 219.16h1.70v1.70h-1.70zM521.30 219.16h1.70v1.70h-1.70zM526.60 219.16h1.70v1.70h-1.70zM531.90 219.16h1.70v1.70h-1.70zM537.20 219.16h1.70v1.70h-1.70zM518.65 224.47h1.70v1.70h-1.70zM523.95 224.47h1.70v1.70h-1.70zM529.25 224.47h1.70v1.70h-1.70zM534.55 224.47h1.70v1.70h-1.70zM539.85 224.47h1.70v1.70h-1.70zM516.00 229.78h1.70v1.70h-1.70zM521.30 229.78h1.70v1.70h-1.70zM526.60 229.78h1.70v1.70h-1.70zM531.90 229.78h1.70v1.70h-1.70zM537.20 229.78h1.70v1.70h-1.70zM518.65 235.09h1.70v1.70h-1.70zM523.95 235.09h1.70v1.70h-1.70zM529.25 235.09h1.70v1.70h-1.70zM534.55 235.09h1.70v1.70h-1.70zM539.85 235.09h1.70v1.70h-1.70zM516.00 240.40h1.70v1.70h-1.70zM521.30 240.40h1.70v1.70h-1.70zM526.60 240.40h1.70v1.70h-1.70zM531.90 240.40h1.70v1.70h-1.70zM537.20 240.40h1.70v1.70h-1.70zM518.65 245.72h1.70v1.70h-1.70zM523.95 245.72h1.70v1.70h-1.70zM529.25 245.72h1.70v1.70h-1.70zM534.55 245.72h1.70v1.70h-1.70zM539.85 245.72h1.70v1.70h-1.70zM516.00 251.03h1.70v1.70h-1.70zM521.30 251.03h1.70v1.70h-1.70zM526.60 251.03h1.70v1.70h-1.70zM531.90 251.03h1.70v1.70h-1.70zM537.20 251.03h1.70v1.70h-1.70zM518.65 256.34h1.70v1.70h-1.70zM523.95 256.34h1.70v1.70h-1.70zM529.25 256.34h1.70v1.70h-1.70zM534.55 256.34h1.70v1.70h-1.70zM539.85 256.34h1.70v1.70h-1.70zM516.00 261.65h1.70v1.70h-1.70zM521.30 261.65h1.70v1.70h-1.70zM526.60 261.65h1.70v1.70h-1.70zM531.90 261.65h1.70v1.70h-1.70zM537.20 261.65h1.70v1.70h-1.70zM518.65 266.96h1.70v1.70h-1.70zM523.95 266.96h1.70v1.70h-1.70zM529.25 266.96h1.70v1.70h-1.70zM534.55 266.96h1.70v1.70h-1.70zM539.85 266.96h1.70v1.70h-1.70zM516.00 272.28h1.70v1.70h-1.70zM521.30 272.28h1.70v1.70h-1.70zM526.60 272.28h1.70v1.70h-1.70zM531.90 272.28h1.70v1.70h-1.70zM537.20 272.28h1.70v1.70h-1.70zM518.65 277.59h1.70v1.70h-1.70zM523.95 277.59h1.70v1.70h-1.70zM529.25 277.59h1.70v1.70h-1.70zM534.55 277.59h1.70v1.70h-1.70zM539.85 277.59h1.70v1.70h-1.70zM516.00 282.90h1.70v1.70h-1.70zM521.30 282.90h1.70v1.70h-1.70zM526.60 282.90h1.70v1.70h-1.70zM531.90 282.90h1.70v1.70h-1.70zM537.20 282.90h1.70v1.70h-1.70zM518.65 288.21h1.70v1.70h-1.70zM523.95 288.21h1.70v1.70h-1.70zM529.25 288.21h1.70v1.70h-1.70zM534.55 288.21h1.70v1.70h-1.70zM539.85 288.21h1.70v1.70h-1.70zM516.00 293.52h1.70v1.70h-1.70zM521.30 293.52h1.70v1.70h-1.70zM526.60 293.52h1.70v1.70h-1.70zM531.90 293.52h1.70v1.70h-1.70zM537.20 293.52h1.70v1.70h-1.70z" fill="#000"/><path fill-rule="evenodd" fill="#000" d="M511.40 142.90h34.60v157.30h-34.60zM515.40 146.90v149.30h26.60v-149.30z"/><rect x="519.80" y="137.00" width="17.80" height="2.80" fill="#000"/><rect x="527.15" y="139.60" width="3.10" height="3.70" fill="#000"/><rect x="551.40" y="144.00" width="26.60" height="152.20" fill="#fff"/><path clip-path="url(#c10)" d="M379.07 134.00L549.90 306.20M385.69 134.00L556.52 306.20M392.32 134.00L563.15 306.20M398.94 134.00L569.77 306.20M405.57 134.00L576.40 306.20M412.19 134.00L583.02 306.20M418.82 134.00L589.65 306.20M425.44 134.00L596.27 306.20M432.07 134.00L602.90 306.20M438.69 134.00L609.52 306.20M445.32 134.00L616.15 306.20M451.94 134.00L622.77 306.20M458.57 134.00L629.40 306.20M465.19 134.00L636.02 306.20M471.82 134.00L642.65 306.20M478.44 134.00L649.27 306.20M485.07 134.00L655.90 306.20M491.69 134.00L662.52 306.20M498.32 134.00L669.15 306.20M504.94 134.00L675.77 306.20M511.57 134.00L682.40 306.20M518.19 134.00L689.02 306.20M524.82 134.00L695.65 306.20M531.44 134.00L702.27 306.20M538.07 134.00L708.90 306.20M544.69 134.00L715.52 306.20M551.32 134.00L722.15 306.20M557.94 134.00L728.77 306.20M564.57 134.00L735.40 306.20M571.19 134.00L742.02 306.20M577.82 134.00L748.65 306.20" stroke="#000" stroke-width="1.6" fill="none"/><path fill-rule="evenodd" fill="#000" d="M547.40 140.00h34.60v160.20h-34.60zM551.40 144.00v152.20h26.60v-152.20z"/><rect x="555.80" y="133.10" width="17.80" height="2.90" fill="#000"/><rect x="563.15" y="135.80" width="3.10" height="4.60" fill="#000"/><rect x="68.2" y="5.5" width="4.20" height="294.70" fill="#000"/><rect x="57.9" y="296.6" width="544.10" height="4.00" fill="#000"/><rect x="57.9" y="5.50" width="11.30" height="4" fill="#000"/><rect x="57.9" y="63.70" width="11.30" height="4" fill="#000"/><rect x="57.9" y="121.90" width="11.30" height="4" fill="#000"/><rect x="57.9" y="180.10" width="11.30" height="4" fill="#000"/><rect x="57.9" y="238.30" width="11.30" height="4" fill="#000"/><rect x="120.50" y="296.60" width="4.2" height="14.00" fill="#000"/><rect x="226.50" y="296.60" width="4.2" height="14.00" fill="#000"/><rect x="332.50" y="296.60" width="4.2" height="14.00" fill="#000"/><rect x="438.40" y="296.60" width="4.2" height="14.00" fill="#000"/><rect x="544.50" y="296.60" width="4.2" height="14.00" fill="#000"/><text transform="translate(55.20 -0.32) scale(1 1.045)" y="14.32" font-size="20" text-anchor="end">00</text><path fill="#000" d="M26.5 14.75H30.3V0.35H27.3C26.9 1.9 25.4 3.0 22.8 3.4V6.5C24.0 6.4 25.6 5.9 26.5 5.1Z"/><text transform="translate(55.20 58.28) scale(1 1.045)" y="14.32" font-size="20" text-anchor="end">80</text><text transform="translate(55.20 117.28) scale(1 1.045)" y="14.32" font-size="20" text-anchor="end">60</text><text transform="translate(55.20 174.88) scale(1 1.045)" y="14.32" font-size="20" text-anchor="end">40</text><text transform="translate(55.20 233.98) scale(1 1.045)" y="14.32" font-size="20" text-anchor="end">20</text><text transform="translate(56.10 290.18) scale(1 1.045)" y="14.32" font-size="20" text-anchor="end">0</text><g transform="translate(16.2 151.65) rotate(-90)"><text transform="scale(1 1.04)" x="-58.589" font-size="22.2">M</text><text transform="scale(1 0.985)" x="-40.097" font-size="22.2">ean (mm)</text></g><g transform="translate(129.40 315.70) rotate(-90) scale(1.001 1)"><text transform="scale(1 1.04)" x="-226.724" font-size="20.1">P</text><text transform="scale(1 0.985)" x="-213.317" font-size="20.1">alatal length </text><text transform="scale(1 1.04)" x="-90.460" font-size="20.1">PNS-ANS</text></g><g transform="translate(236.00 315.70) rotate(-90) scale(1.0035 1)"><text transform="scale(1 1.04)" x="-221.159" font-size="20.1">A</text><text transform="scale(1 0.985)" x="-206.643" font-size="20.1">nterior skull base </text><text transform="scale(1 1.04)" x="-34.616" font-size="20.1">S-N</text></g><g transform="translate(341.60 315.10) rotate(-90) scale(1.003 1)"><text transform="scale(1 1.04)" x="-254.616" font-size="20.1">M</text><text transform="scale(1 0.985)" x="-237.873" font-size="20.1">id face protrusion </text><text transform="scale(1 1.04)" x="-62.538" font-size="20.1">S-ANS</text></g><g transform="translate(447.80 315.15) rotate(-90) scale(1.0036 1)"><text transform="scale(1 1.04)" x="-215.525" font-size="20.1">M</text><text transform="scale(1 0.985)" x="-198.782" font-size="20.1">id face length </text><text transform="scale(1 1.04)" x="-63.647" font-size="20.1">N-ANS</text></g><g transform="translate(553.50 315.45) rotate(-90) scale(1.0074 1)"><text transform="scale(1 1.04)" x="-247.923" font-size="20.1">A</text><text transform="scale(1 0.985)" x="-233.407" font-size="20.1">nterior facial height </text><text transform="scale(1 1.04)" x="-41.309" font-size="20.1">N- A</text></g><rect x="555.70" y="7.20" width="20.60" height="5.70" fill="#fff"/><path clip-path="url(#c11)" d="M558.95 9.70h1.70v1.70h-1.70zM564.25 9.70h1.70v1.70h-1.70zM569.55 9.70h1.70v1.70h-1.70zM574.85 9.70h1.70v1.70h-1.70z" fill="#000"/><path fill-rule="evenodd" fill="#000" d="M551.70 3.20h28.60v13.70h-28.60zM555.70 7.20v5.70h20.60v-5.70z"/><rect x="555.70" y="42.30" width="20.60" height="6.60" fill="#fff"/><path clip-path="url(#c12)" d="M528.37 32.30L554.76 58.90M535.00 32.30L561.39 58.90M541.62 32.30L568.01 58.90M548.25 32.30L574.64 58.90M554.87 32.30L581.26 58.90M561.50 32.30L587.89 58.90M568.12 32.30L594.51 58.90M574.75 32.30L601.14 58.90" stroke="#000" stroke-width="1.6" fill="none"/><path fill-rule="evenodd" fill="#000" d="M551.70 38.30h28.60v14.60h-28.60zM555.70 42.30v6.60h20.60v-6.60z"/><g transform="translate(596.5 17.5)"><text transform="scale(1 1.04)" x="0.000" font-size="22">P</text><text transform="scale(1 0.985)" x="14.674" font-size="22">atietns</text></g><g transform="translate(596.2 53.2)"><text transform="scale(1 1.04)" x="0.000" font-size="22">C</text><text transform="scale(1 0.985)" x="15.888" font-size="22">ontrols</text></g></svg></body></html>
